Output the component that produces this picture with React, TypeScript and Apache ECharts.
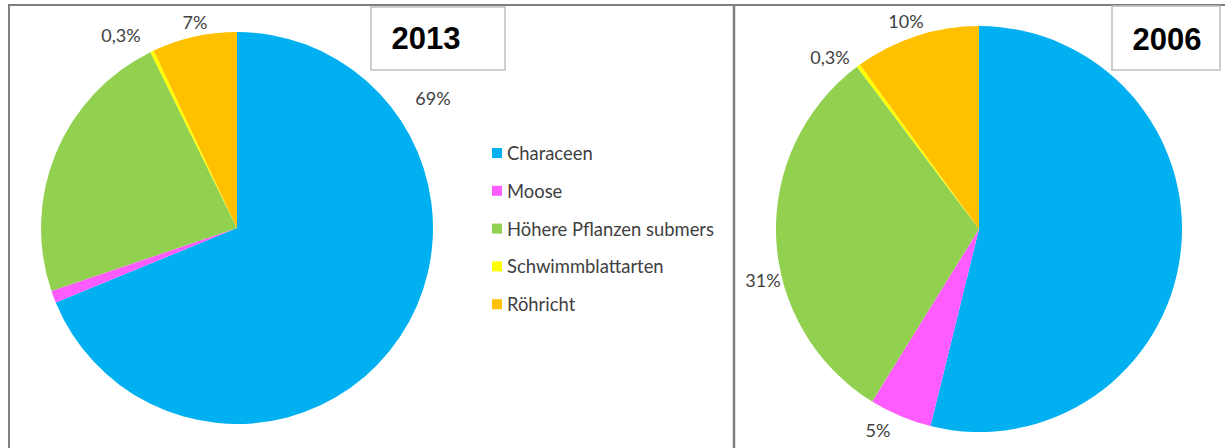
import React, { useEffect, useRef } from "react";
import * as echarts from "echarts";

const categories = ["Characeen", "Moose", "Höhere Pflanzen submers", "Schwimmblattarten", "Röhricht"];
const values2013 = [69, 1, 23, 0.3, 7];
const values2006 = [54, 5, 31, 0.3, 10];
const colors = ["#00B0F0", "#FF5CFF", "#92D050", "#FFFF00", "#FFC000"];

// label anchor points (layout only)
const labelPos2013: [number, number][] = [[433, 98], [37, 320], [35, 165], [121, 35], [195, 22]];
const labelPos2006: [number, number][] = [[1185, 115], [878, 430], [763, 280], [830, 57], [906, 21]];

const FONT = "Lato, 'Open Sans', sans-serif";

const fmt = (p: any) => String(p.value).replace(".", ",") + "%";

export default function App() {
  const ref = useRef<HTMLDivElement>(null);
  useEffect(() => {
    if (!ref.current) return;
    const chart = echarts.init(ref.current, null, { renderer: "svg" });
    const mkSeries = (name: string, vals: number[], center: [number, number], r: number, pos: [number, number][]) => ({
      type: "pie",
      name,
      center,
      radius: r,
      startAngle: 90,
      clockwise: true,
      data: categories.map((c, i) => ({ name: c, value: vals[i] })),
      label: {
        show: true,
        position: "outside",
        formatter: fmt,
        fontFamily: FONT,
        fontSize: 18,
        color: "#404040",
      },
      labelLine: { show: false },
      labelLayout: (params: any) => ({
        x: pos[params.dataIndex][0],
        y: pos[params.dataIndex][1],
        align: "center",
        verticalAlign: "middle",
        hideOverlap: false,
        moveOverlap: false,
      }),
      emphasis: { disabled: true },
      itemStyle: { borderWidth: 0 },
    });
    chart.setOption({
      animation: false,
      color: colors,
      backgroundColor: "#ffffff",
      legend: {
        orient: "vertical",
        left: 487,
        top: 139,
        itemWidth: 10,
        itemHeight: 10,
        itemGap: 19.8,
        icon: "rect",
        selectedMode: false,
        data: categories,
        textStyle: { fontFamily: FONT, fontSize: 18.4, color: "#404040", lineHeight: 17.5 },
      },
      graphic: [
        { type: "line", shape: { x1: 8, y1: 5, x2: 1225, y2: 5 }, style: { stroke: "#7F7F7F", lineWidth: 2 } },
        { type: "line", shape: { x1: 9, y1: 5, x2: 9, y2: 448 }, style: { stroke: "#7F7F7F", lineWidth: 2 } },
        { type: "line", shape: { x1: 734, y1: 5, x2: 734, y2: 448 }, style: { stroke: "#7F7F7F", lineWidth: 2.5 } },
        {
          type: "rect",
          shape: { x: 371, y: 7, width: 134, height: 63 },
          style: { fill: "#fff", stroke: "#BFBFBF", lineWidth: 1.5 },
        },
        {
          type: "text",
          x: 426,
          y: 38,
          style: {
            text: "2013",
            fontFamily: "'Liberation Sans', Arial, sans-serif",
            fontWeight: "bold",
            fontSize: 31,
            fill: "#000",
            align: "center",
            verticalAlign: "middle",
          },
        },
        {
          type: "rect",
          shape: { x: 1112, y: 6, width: 108, height: 64 },
          style: { fill: "#fff", stroke: "#BFBFBF", lineWidth: 1.5 },
        },
        {
          type: "text",
          x: 1167,
          y: 39,
          style: {
            text: "2006",
            fontFamily: "'Liberation Sans', Arial, sans-serif",
            fontWeight: "bold",
            fontSize: 31,
            fill: "#000",
            align: "center",
            verticalAlign: "middle",
          },
        },
      ],
      series: [
        mkSeries("2013", values2013, [237, 228], 196, labelPos2013),
        mkSeries("2006", values2006, [979, 229], 203, labelPos2006),
      ],
    });
    return () => chart.dispose();
  }, []);
  return (
    <div
      ref={ref}
      style={{ position: "absolute", left: 0, top: 0, width: 1225, height: 448 }}
    />
  );
}
